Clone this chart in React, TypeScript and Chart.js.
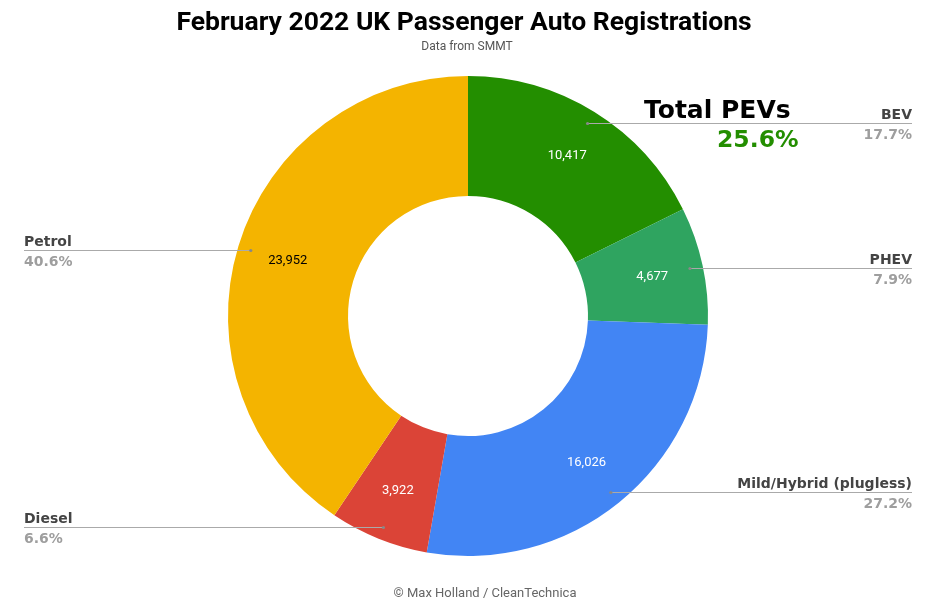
import React, { useEffect, useRef } from "react";
import { Chart, registerables } from "chart.js";

Chart.register(...registerables);

const categories = ["BEV", "PHEV", "Mild/Hybrid (plugless)", "Diesel", "Petrol"];
const registrations = [10417, 4677, 16026, 3922, 23952];
const percentLabels = ["17.7%", "7.9%", "27.2%", "6.6%", "40.6%"];
const sliceColors = ["#238E00", "#2FA460", "#4285F4", "#DB4437", "#F4B400"];
const valueTextColors = ["#ffffff", "#ffffff", "#ffffff", "#ffffff", "#000000"];
const titleText = "February 2022 UK Passenger Auto Registrations";
const subtitleText = "Data from SMMT";
const footerText = "© Max Holland / CleanTechnica";
const totalLabel = "Total PEVs";
const totalValue = "25.6%";

const labelPlugin = {
  id: "customLabels",
  afterDatasetsDraw(chart: any) {
    const ctx = chart.ctx as CanvasRenderingContext2D;
    const meta = chart.getDatasetMeta(0);
    ctx.save();
    meta.data.forEach((arc: any, i: number) => {
      const { x, y, startAngle, endAngle, outerRadius } = arc.getProps(
        ["x", "y", "startAngle", "endAngle", "outerRadius"],
        true
      );
      const mid = (startAngle + endAngle) / 2;
      const rLab = outerRadius * 0.785;
      // value label
      ctx.font = "13px Roboto";
      ctx.fillStyle = valueTextColors[i];
      ctx.textAlign = "center";
      ctx.textBaseline = "middle";
      ctx.fillText(
        registrations[i].toLocaleString("en-US"),
        x + Math.cos(mid) * rLab,
        y + Math.sin(mid) * rLab
      );
      // leader
      const rDot = outerRadius * 0.946;
      const dx = x + Math.cos(mid) * rDot;
      const dy = Math.round(y + Math.sin(mid) * rDot) + 0.5;
      const right = Math.cos(mid) >= 0;
      const endX = right ? 912 : 24;
      ctx.strokeStyle = "#aaaaaa";
      ctx.lineWidth = 1;
      ctx.beginPath();
      ctx.moveTo(dx, dy);
      ctx.lineTo(endX, dy);
      ctx.stroke();
      ctx.fillStyle = "#888888";
      ctx.beginPath();
      ctx.arc(dx, dy, 1.6, 0, Math.PI * 2);
      ctx.fill();
      // texts
      ctx.textAlign = right ? "right" : "left";
      ctx.textBaseline = "alphabetic";
      ctx.font = "bold 14px 'DejaVu Sans'";
      ctx.fillStyle = "#444444";
      ctx.fillText(categories[i], endX, dy - 5);
      ctx.fillStyle = "#9e9e9e";
      ctx.fillText(percentLabels[i], endX, dy + 15);
    });

    // title & texts
    ctx.textAlign = "center";
    ctx.textBaseline = "alphabetic";
    ctx.fillStyle = "#000000";
    ctx.font = "bold 26.5px Roboto";
    ctx.fillText(titleText, 464, 30);
    ctx.fillStyle = "#555555";
    ctx.font = "12px Roboto";
    ctx.fillText(subtitleText, 467, 50);
    ctx.fillStyle = "#666666";
    ctx.font = "13px Roboto";
    ctx.fillText(footerText, 485, 597);

    ctx.textAlign = "left";
    ctx.fillStyle = "#000000";
    ctx.font = "bold 25px 'DejaVu Sans'";
    ctx.fillText(totalLabel, 644, 118);
    ctx.fillStyle = "#238E00";
    ctx.font = "bold 23.5px 'DejaVu Sans'";
    ctx.fillText(totalValue, 717, 147);
    ctx.restore();
  },
};

export default function App() {
  const ref = useRef<HTMLCanvasElement>(null);
  useEffect(() => {
    if (!ref.current) return;
    const chart = new Chart(ref.current, {
      type: "doughnut",
      data: {
        labels: categories,
        datasets: [
          {
            data: registrations,
            backgroundColor: sliceColors,
            borderWidth: 0,
          },
        ],
      },
      options: {
        responsive: false,
        animation: false,
        cutout: "50%",
        layout: { padding: { top: 76, bottom: 55, left: 0, right: 0 } },
        plugins: {
          legend: { display: false },
          title: { display: false },
          tooltip: { enabled: false },
        },
      },
      plugins: [labelPlugin],
    });
    return () => chart.destroy();
  }, []);
  return (
    <div style={{ position: "fixed", left: 0, top: 0, width: 936, height: 611, background: "#fff" }}>
      <canvas ref={ref} width={936} height={611} />
    </div>
  );
}
